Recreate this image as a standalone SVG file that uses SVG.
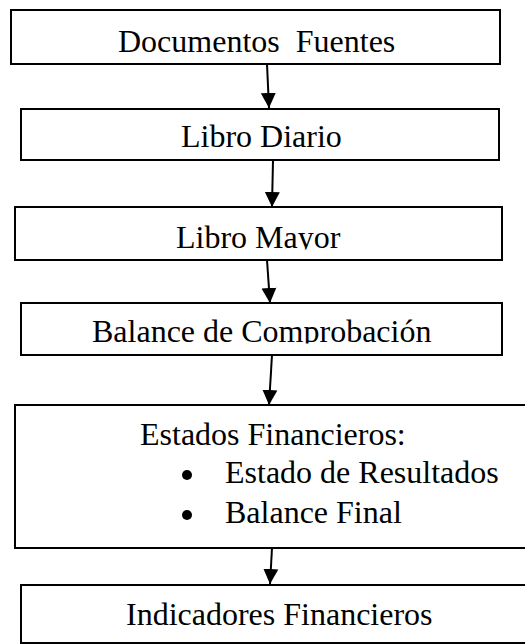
<svg xmlns="http://www.w3.org/2000/svg" width="525" height="644" viewBox="0 0 525 644">
<style>
.box{fill:#fff;stroke:#000;stroke-width:2}
.t{font-family:"Liberation Serif","Times New Roman",serif;font-size:32px;fill:#000;white-space:pre}
.c{stroke:#000;stroke-width:2;fill:none;marker-end:url(#ah)}
</style>
<defs>
<marker id="ah" markerUnits="userSpaceOnUse" markerWidth="16" markerHeight="16" viewBox="0 0 16 16" refX="15" refY="8" orient="auto">
<path d="M0,0.5 L15,8 L0,15.5 Z" fill="#000"/>
</marker>
<clipPath id="c3"><rect x="15" y="207" width="487" height="42.5"/></clipPath>
<clipPath id="c4"><rect x="21" y="303" width="481" height="40.5"/></clipPath>
</defs>
<g id="n1">
<rect class="box" x="11" y="10" width="489" height="54"/>
<text class="t" x="118" y="52" xml:space="preserve">Documentos  Fuentes</text>
</g>
<g id="n2">
<rect class="box" x="21" y="109" width="478" height="51"/>
<text class="t" x="181" y="147">Libro Diario</text>
</g>
<g id="n3">
<rect class="box" x="15" y="207" width="487" height="53"/>
<text class="t" x="176" y="248" clip-path="url(#c3)">Libro Mayor</text>
</g>
<g id="n4">
<rect class="box" x="21" y="303" width="481" height="52"/>
<text class="t" x="92" y="342" clip-path="url(#c4)">Balance de Comprobación</text>
</g>
<g id="n5">
<rect class="box" x="15" y="405" width="525" height="143"/>
<text class="t" x="140" y="445">Estados Financieros:</text>
<circle cx="187" cy="475" r="5" fill="#000"/>
<text class="t" x="225" y="483">Estado de Resultados</text>
<circle cx="187" cy="515" r="5" fill="#000"/>
<text class="t" x="225" y="523">Balance Final</text>
</g>
<g id="n6">
<rect class="box" x="21" y="585" width="520" height="58"/>
<text class="t" x="126" y="625">Indicadores Financieros</text>
</g>
<g id="connectors">
<line class="c" x1="267" y1="64" x2="269" y2="108"/>
<line class="c" x1="273" y1="160" x2="272" y2="207"/>
<line class="c" x1="267" y1="260" x2="270" y2="303"/>
<line class="c" x1="272" y1="355" x2="269" y2="405"/>
<line class="c" x1="272" y1="548" x2="270" y2="584"/>
</g>
</svg>
